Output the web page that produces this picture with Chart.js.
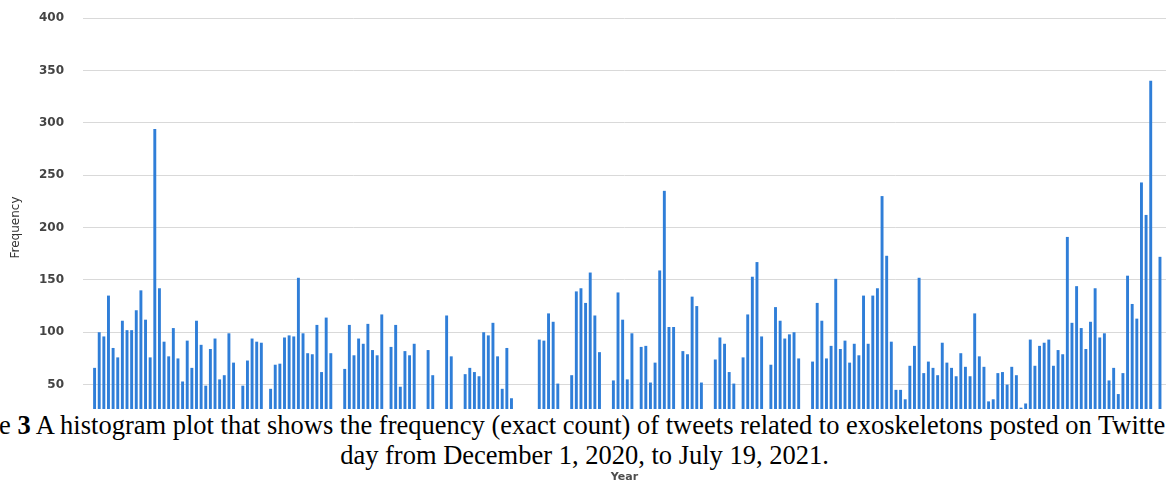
<!DOCTYPE html>
<html>
<head>
<meta charset="utf-8">
<script src="https://cdn.jsdelivr.net/npm/chart.js@4.4.1/dist/chart.umd.min.js"></script>
<style>
  html, body { margin: 0; padding: 0; background: #fff; overflow: hidden; }
  #wrap { position: relative; width: 1169px; height: 481px; }
  #caption {
    position: absolute; left: 0; top: 409px; width: 1169px; height: 62px;
    background: #fff; color: #000; overflow: hidden;
    font-family: "Liberation Serif", "Times New Roman", serif;
    font-size: 26.5px; line-height: 31px;
  }
  #caption .l1 { white-space: nowrap; margin-left: -1px; margin-top: 1px; }
  #caption .l2 { white-space: nowrap; text-align: center; margin-top: -1px; }
</style>
</head>
<body>
<div id="wrap">
  <canvas id="tweetsChart" width="1169" height="481"></canvas>
  <div id="caption">
    <div class="l1">e <b>3</b> A histogram plot that shows the frequency (exact count) of tweets related to exoskeletons posted on Twitte</div>
    <div class="l2">day from December 1, 2020, to July 19, 2021.</div>
  </div>
</div>
<script>
'use strict'

// one value per day, Dec 1 2020 .. Jul 19 2021 (0 = bar hidden / no data)
const startDate = '2020-12-01';
const frequency = [
  66, 100, 96, 135, 85, 76, 111, 102, 102, 121,
  140, 112, 76, 294, 142, 91, 77, 104, 75, 53,
  92, 66, 111, 88, 49, 84, 94, 55, 59, 99,
  71, 0, 49, 73, 94, 91, 90, 0, 46, 69,
  70, 95, 97, 96, 152, 99, 80, 79, 107, 62,
  114, 80, 0, 0, 65, 107, 78, 94, 89, 108,
  83, 78, 117, 0, 86, 107, 48, 82, 78, 89,
  0, 0, 83, 59, 0, 0, 116, 77, 0, 0,
  60, 66, 62, 58, 100, 97, 109, 77, 46, 85,
  37, 0, 0, 0, 0, 0, 93, 92, 118, 110,
  51, 0, 0, 59, 139, 142, 128, 157, 116, 81,
  0, 0, 54, 138, 112, 55, 99, 0, 86, 87,
  52, 71, 159, 235, 105, 105, 0, 82, 79, 134,
  125, 52, 0, 0, 74, 95, 89, 62, 51, 0,
  76, 117, 153, 167, 96, 0, 69, 124, 111, 94,
  98, 100, 75, 0, 0, 72, 128, 111, 75, 87,
  151, 84, 92, 71, 89, 78, 135, 89, 135, 142,
  230, 173, 91, 45, 45, 36, 68, 87, 152, 61,
  72, 66, 59, 90, 71, 66, 58, 80, 67, 58,
  118, 77, 67, 34, 36, 61, 62, 50, 67, 59,
  28, 32, 93, 68, 87, 90, 93, 68, 83, 79,
  191, 109, 144, 104, 84, 110, 142, 95, 99, 54,
  66, 41, 61, 154, 127, 113, 243, 212, 340, 0,
  172
];
const yTicks = [0, 50, 100, 150, 200, 250, 300, 350, 400];

const days = frequency.map((_, i) => {
  const d = new Date(startDate + 'T00:00:00Z');
  d.setUTCDate(d.getUTCDate() + i);
  return d.toISOString().slice(0, 10);
});
const points = frequency.map((v, i) => ({ x: i, y: v, day: days[i] }));

new Chart(document.getElementById('tweetsChart'), {
  type: 'bar',
  data: {
    datasets: [{
      label: 'Frequency',
      data: points,
      backgroundColor: '#2f7ed8',
      borderWidth: 0,
      categoryPercentage: 1,
      barPercentage: 0.63
    }]
  },
  options: {
    responsive: false,
    animation: false,
    layout: { padding: { left: 0, right: 3, top: 18, bottom: 0 } },
    plugins: {
      legend: { display: false },
      tooltip: { enabled: false }
    },
    scales: {
      x: {
        type: 'linear',
        offset: false,
        min: -2.5,
        max: 231.3,
        grid: { display: false },
        border: { display: false },
        ticks: { display: false },
        title: {
          display: true,
          text: 'Year',
          color: '#4d4d4d',
          font: { family: 'DejaVu Sans', size: 11, weight: 'bold' },
          padding: { top: 0, bottom: -3 }
        },
        afterFit: s => { s.height = 44; }
      },
      y: {
        min: 0,
        max: 400,
        afterBuildTicks: s => { s.ticks = yTicks.map(v => ({ value: v })); },
        grid: { color: '#d9d9d9', drawTicks: false },
        border: { display: false },
        ticks: {
          padding: 19,
          color: '#444',
          font: { family: 'DejaVu Sans', size: 12, weight: 'bold' }
        },
        title: {
          display: true,
          text: 'Frequency',
          color: '#333',
          font: { family: 'DejaVu Sans', size: 12 },
          padding: { top: 9, bottom: 0 }
        },
        afterFit: s => {
          s.width = 83;
          s.paddingTop = 0;
          s.paddingBottom = 0;
        }
      }
    }
  }
});
</script>
</body>
</html>
